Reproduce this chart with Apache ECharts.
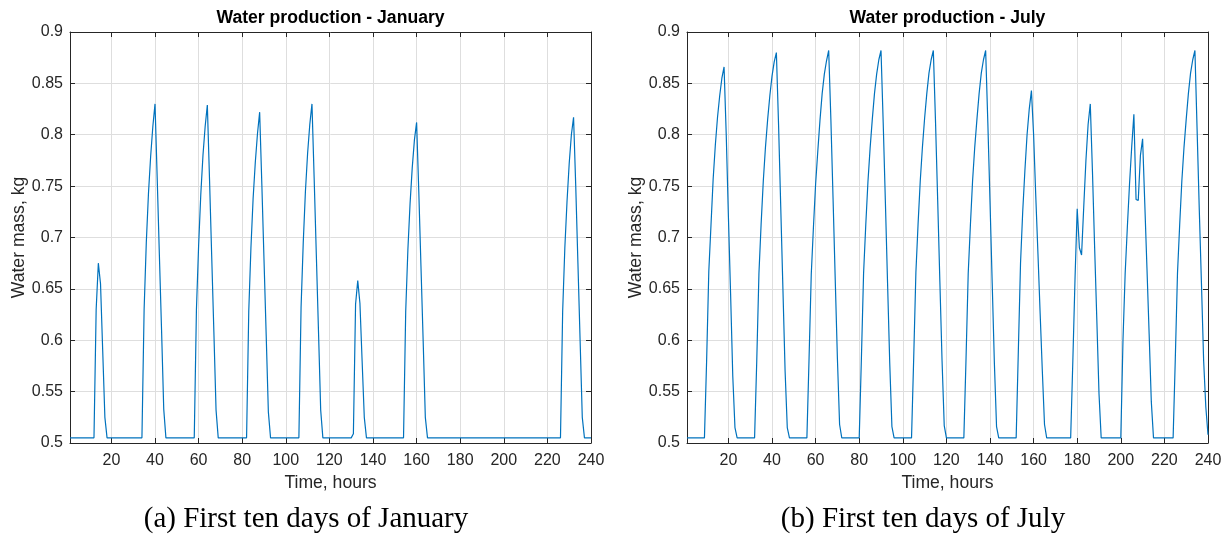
<!DOCTYPE html>
<html>
<head>
<meta charset="utf-8">
<title>Water production - January / July</title>
<script src="https://cdn.jsdelivr.net/npm/echarts@6/dist/echarts.min.js"></script>
<style>
  html, body { margin: 0; padding: 0; background: #fff; }
  #chart { width: 1229px; height: 543px; }
</style>
</head>
<body>
<div id="chart"></div>
<script>
// hour index of the simulation, 1..240 (first ten days)
const HOURS = Array.from({ length: 240 }, (_, i) => i + 1);
const X_TICKS = [20, 40, 60, 80, 100, 120, 140, 160, 180, 200, 220, 240];

// water mass, kg — one line per day
const JAN_WATER = [
  0.505,0.505,0.505,0.505,0.505,0.505,0.505,0.505,0.505,0.505,0.505,0.505,0.63,0.675,0.655,0.59,0.525,0.505,0.505,0.505,0.505,0.505,0.505,0.505,
  0.505,0.505,0.505,0.505,0.505,0.505,0.505,0.505,0.505,0.505,0.63,0.695,0.743,0.779,0.808,0.83,0.758,0.683,0.61,0.533,0.505,0.505,0.505,0.505,
  0.505,0.505,0.505,0.505,0.505,0.505,0.505,0.505,0.505,0.505,0.63,0.692,0.742,0.78,0.808,0.829,0.757,0.682,0.608,0.532,0.505,0.505,0.505,0.505,
  0.505,0.505,0.505,0.505,0.505,0.505,0.505,0.505,0.505,0.505,0.628,0.69,0.738,0.773,0.801,0.822,0.752,0.678,0.605,0.53,0.505,0.505,0.505,0.505,
  0.505,0.505,0.505,0.505,0.505,0.505,0.505,0.505,0.505,0.505,0.632,0.695,0.745,0.782,0.81,0.83,0.758,0.683,0.608,0.532,0.505,0.505,0.505,0.505,
  0.505,0.505,0.505,0.505,0.505,0.505,0.505,0.505,0.505,0.505,0.509,0.635,0.658,0.636,0.58,0.525,0.505,0.505,0.505,0.505,0.505,0.505,0.505,0.505,
  0.505,0.505,0.505,0.505,0.505,0.505,0.505,0.505,0.505,0.505,0.628,0.688,0.733,0.768,0.795,0.812,0.745,0.672,0.6,0.525,0.505,0.505,0.505,0.505,
  0.505,0.505,0.505,0.505,0.505,0.505,0.505,0.505,0.505,0.505,0.505,0.505,0.505,0.505,0.505,0.505,0.505,0.505,0.505,0.505,0.505,0.505,0.505,0.505,
  0.505,0.505,0.505,0.505,0.505,0.505,0.505,0.505,0.505,0.505,0.505,0.505,0.505,0.505,0.505,0.505,0.505,0.505,0.505,0.505,0.505,0.505,0.505,0.505,
  0.505,0.505,0.505,0.505,0.505,0.505,0.505,0.505,0.505,0.505,0.628,0.69,0.735,0.772,0.8,0.817,0.75,0.675,0.6,0.525,0.505,0.505,0.505,0.505,
];

const JUL_WATER = [
  0.505,0.505,0.505,0.505,0.505,0.505,0.505,0.505,0.505,0.58,0.667,0.712,0.757,0.79,0.817,0.838,0.855,0.866,0.8,0.72,0.645,0.565,0.515,0.505,
  0.505,0.505,0.505,0.505,0.505,0.505,0.505,0.505,0.58,0.665,0.713,0.755,0.788,0.815,0.838,0.857,0.871,0.88,0.81,0.73,0.65,0.57,0.515,0.505,
  0.505,0.505,0.505,0.505,0.505,0.505,0.505,0.505,0.583,0.664,0.71,0.752,0.784,0.814,0.84,0.859,0.872,0.882,0.815,0.738,0.659,0.582,0.518,0.505,
  0.505,0.505,0.505,0.505,0.505,0.505,0.505,0.505,0.582,0.665,0.712,0.754,0.787,0.815,0.84,0.859,0.873,0.882,0.812,0.735,0.656,0.578,0.516,0.505,
  0.505,0.505,0.505,0.505,0.505,0.505,0.505,0.505,0.583,0.666,0.713,0.755,0.788,0.816,0.84,0.86,0.873,0.882,0.813,0.736,0.657,0.58,0.517,0.505,
  0.505,0.505,0.505,0.505,0.505,0.505,0.505,0.505,0.582,0.665,0.712,0.755,0.788,0.815,0.84,0.86,0.873,0.882,0.812,0.735,0.656,0.578,0.516,0.505,
  0.505,0.505,0.505,0.505,0.505,0.505,0.505,0.505,0.59,0.675,0.725,0.765,0.8,0.825,0.843,0.8,0.74,0.684,0.626,0.57,0.518,0.505,0.505,0.505,
  0.505,0.505,0.505,0.505,0.505,0.505,0.505,0.505,0.505,0.58,0.66,0.728,0.69,0.683,0.73,0.775,0.81,0.83,0.764,0.69,0.62,0.548,0.505,0.505,
  0.505,0.505,0.505,0.505,0.505,0.505,0.505,0.505,0.6,0.665,0.71,0.752,0.788,0.82,0.737,0.736,0.78,0.796,0.733,0.67,0.606,0.54,0.505,0.505,
  0.505,0.505,0.505,0.505,0.505,0.505,0.505,0.505,0.582,0.665,0.712,0.755,0.788,0.815,0.84,0.86,0.873,0.882,0.805,0.727,0.655,0.58,0.535,0.508,
];

const AXIS_COLOR = '#262626';
const GRID_COLOR = '#dedede';
const LINE_COLOR = '#0072bd';
const SANS = '"Liberation Sans", Arial, Helvetica, sans-serif';
const SERIF = '"Liberation Serif", "Times New Roman", serif';

// MATLAB-like subplot geometry (px)
const PLOT_TOP = 32;
const PLOT_W = 521;
const PLOT_H = 411;

const PANELS = [
  { left: 70, title: 'Water production - January', caption: '(a) First ten days of January', captionX: 306, data: JAN_WATER },
  { left: 687, title: 'Water production - July', caption: '(b) First ten days of July', captionX: 923, data: JUL_WATER },
];

if (JAN_WATER.length !== 240 || JUL_WATER.length !== 240) console.warn('series length mismatch');

const tickLine = { color: AXIS_COLOR, width: 1 };

function buildAxes(i) {
  const xBottom = {
    gridIndex: i, type: 'value', min: 1, max: 240, position: 'bottom',
    name: 'Time, hours', nameLocation: 'middle', nameGap: 30,
    nameTextStyle: { fontSize: 17.6, color: AXIS_COLOR, fontFamily: SANS },
    axisLine: { show: true, onZero: false, lineStyle: tickLine },
    axisTick: { show: true, inside: true, length: 5, customValues: X_TICKS, lineStyle: tickLine },
    axisLabel: { customValues: X_TICKS, fontSize: 16, color: AXIS_COLOR, fontFamily: SANS, margin: 10 },
    splitLine: { show: true, lineStyle: { color: GRID_COLOR, width: 1 } },
  };
  const xTop = {
    gridIndex: i, type: 'value', min: 1, max: 240, position: 'top',
    axisLine: { show: true, onZero: false, lineStyle: tickLine },
    axisTick: { show: true, inside: true, length: 5, customValues: X_TICKS, lineStyle: tickLine },
    axisLabel: { show: false },
    splitLine: { show: false },
  };
  const yLeft = {
    gridIndex: i, type: 'value', min: 0.5, max: 0.9, interval: 0.05, position: 'left',
    name: 'Water mass, kg', nameLocation: 'middle', nameGap: 42, nameRotate: 90,
    nameTextStyle: { fontSize: 17.6, color: AXIS_COLOR, fontFamily: SANS },
    axisLine: { show: true, onZero: false, lineStyle: tickLine },
    axisTick: { show: true, inside: true, length: 5, lineStyle: tickLine },
    axisLabel: { fontSize: 16, color: AXIS_COLOR, fontFamily: SANS, margin: 7 },
    splitLine: { show: true, lineStyle: { color: GRID_COLOR, width: 1 } },
  };
  const yRight = {
    gridIndex: i, type: 'value', min: 0.5, max: 0.9, interval: 0.05, position: 'right',
    axisLine: { show: true, onZero: false, lineStyle: tickLine },
    axisTick: { show: true, inside: true, length: 5, lineStyle: tickLine },
    axisLabel: { show: false },
    splitLine: { show: false },
  };
  return { x: [xBottom, xTop], y: [yLeft, yRight] };
}

const grids = [], xAxes = [], yAxes = [], series = [], graphic = [];
PANELS.forEach((p, i) => {
  grids.push({ left: p.left, top: PLOT_TOP, width: PLOT_W, height: PLOT_H, containLabel: false });
  const ax = buildAxes(i);
  xAxes.push(...ax.x);
  yAxes.push(...ax.y);
  series.push({
    type: 'line',
    xAxisIndex: 2 * i,
    yAxisIndex: 2 * i,
    data: HOURS.map((h, k) => [h, p.data[k]]),
    symbol: 'none',
    lineStyle: { color: LINE_COLOR, width: 1.2 },
    z: 5,
  });
  graphic.push({
    type: 'text', x: p.left + PLOT_W / 2, y: 18,
    style: { text: p.title, align: 'center', verticalAlign: 'middle', fill: '#000',
      font: 'bold 17.6px ' + SANS },
  });
  graphic.push({
    type: 'text', x: p.captionX, y: 519,
    style: { text: p.caption, align: 'center', verticalAlign: 'middle', fill: '#000',
      font: '29px ' + SERIF },
  });
});

const chart = echarts.init(document.getElementById('chart'));
chart.setOption({
  animation: false,
  backgroundColor: '#fff',
  grid: grids,
  xAxis: xAxes,
  yAxis: yAxes,
  series,
  graphic,
});
</script>
</body>
</html>
